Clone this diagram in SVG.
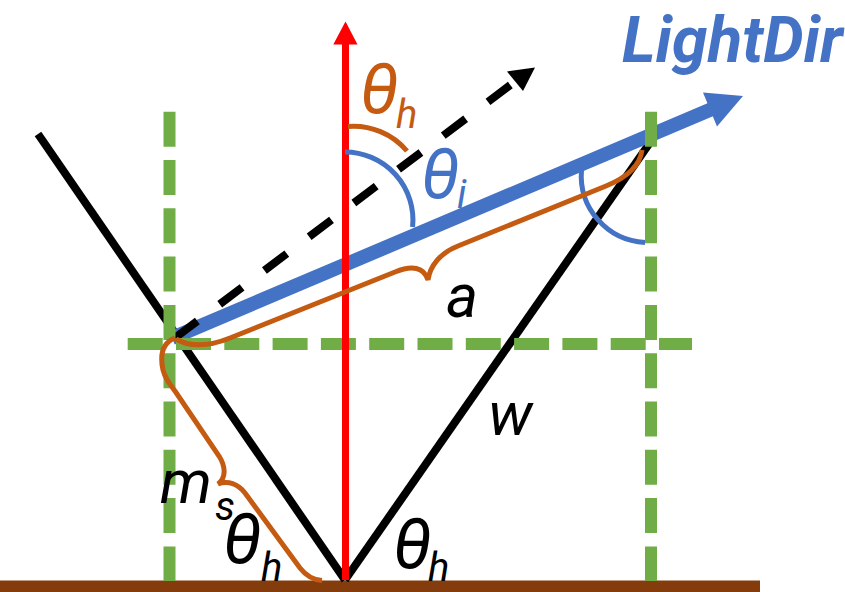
<svg xmlns="http://www.w3.org/2000/svg" width="845" height="592" viewBox="0 0 845 592">
<style>
.guide{stroke:#70AD47;stroke-width:12;stroke-dasharray:35 13.3;fill:none}
.ray{stroke:#000;stroke-width:8;fill:none}
.lbl{font-family:Roboto,"Liberation Sans",sans-serif;font-style:italic;font-size:61px}
.th{font-family:Roboto,"Liberation Sans",sans-serif;font-style:italic;font-size:70px}
.sub{font-size:40px}
.org{fill:#C55A11}
.blu{fill:#4472C4}
.arc{fill:none;stroke-width:5}
</style>
<rect id="ground" x="0" y="580.5" width="760" height="11.5" fill="#843C0C"/>
<g id="connectors">
  <line id="surface-left" class="ray" x1="38" y1="134" x2="345" y2="580"/>
  <line id="surface-right" class="ray" x1="345" y1="580" x2="649" y2="144"/>
  <line id="light-dir" x1="172" y1="338" x2="712" y2="109" stroke="#4472C4" stroke-width="14"/>
  <polygon points="743,96 703,92.5 717,126.5" fill="#4472C4"/>
  <line id="half-vec" x1="175" y1="337.9" x2="517" y2="80" stroke="#000" stroke-width="8" stroke-dasharray="28 28"/>
  <polygon points="535,67.5 507,71.5 523,91" fill="#000"/>
  <g id="guides">
    <line class="guide" x1="169.5" y1="111.7" x2="169.5" y2="581"/>
    <line class="guide" x1="651" y1="111.7" x2="651" y2="581"/>
    <line class="guide" x1="127.7" y1="344" x2="692" y2="344"/>
  </g>
  <line id="normal" x1="345.5" y1="580" x2="345.5" y2="42" stroke="#FF0000" stroke-width="7"/>
  <polygon points="345.5,21.5 333.3,44.5 357.5,44.5" fill="#FF0000"/>
</g>
<g id="angles">
  <path id="arc-theta-h" class="arc" stroke="#C55A11" d="M348,126.4 A70,70 0 0 1 407,151"/>
  <path id="arc-theta-i" class="arc" stroke="#4472C4" d="M345,152 A68,68 0 0 1 412.6,227"/>
  <path id="arc-right" class="arc" stroke="#4472C4" d="M581.5,170 A67,67 0 0 0 645,242.5"/>
</g>
<g id="braces" fill="none" stroke="#C55A11" stroke-width="5">
  <path id="brace-a" d="M176,339 C188,346 205,348 230,338 L395,272 C412,265 424,267 428,280 C430,266 440,253 458,246 L606,186 C628,177 640,166 642,150"/>
  <path id="brace-ms" d="M175,338 C162,343 160,356 163,370 C165,378 169,383 175,391 L219,456 C226,467 226,478 218,484 C228,480 238,484 245,493 L300,568 C307,577 314,580 322,580.5"/>
</g>
<g id="labels">
  <text id="label-lightdir" x="622" y="62" font-family="Roboto,'Liberation Sans',sans-serif" font-style="italic" font-weight="bold" font-size="64" fill="#4472C4">LightDir</text>
  <text id="label-theta-h-top" class="th org" x="360" y="113">θ<tspan class="sub" x="396" y="128">h</tspan></text>
  <text id="label-theta-i" class="th blu" x="421" y="198">θ<tspan class="sub" x="457" y="208">i</tspan></text>
  <text id="label-a" class="lbl" x="446" y="317">a</text>
  <text id="label-w" class="lbl" x="488" y="435">w</text>
  <text id="label-ms" class="lbl" x="160" y="503">m<tspan class="sub" x="215" y="520">s</tspan></text>
  <text id="label-theta-h-left" class="th" x="223" y="563">θ<tspan class="sub" x="261" y="581">h</tspan></text>
  <text id="label-theta-h-right" class="th" x="393" y="568">θ<tspan class="sub" x="428" y="581">h</tspan></text>
</g>
</svg>
